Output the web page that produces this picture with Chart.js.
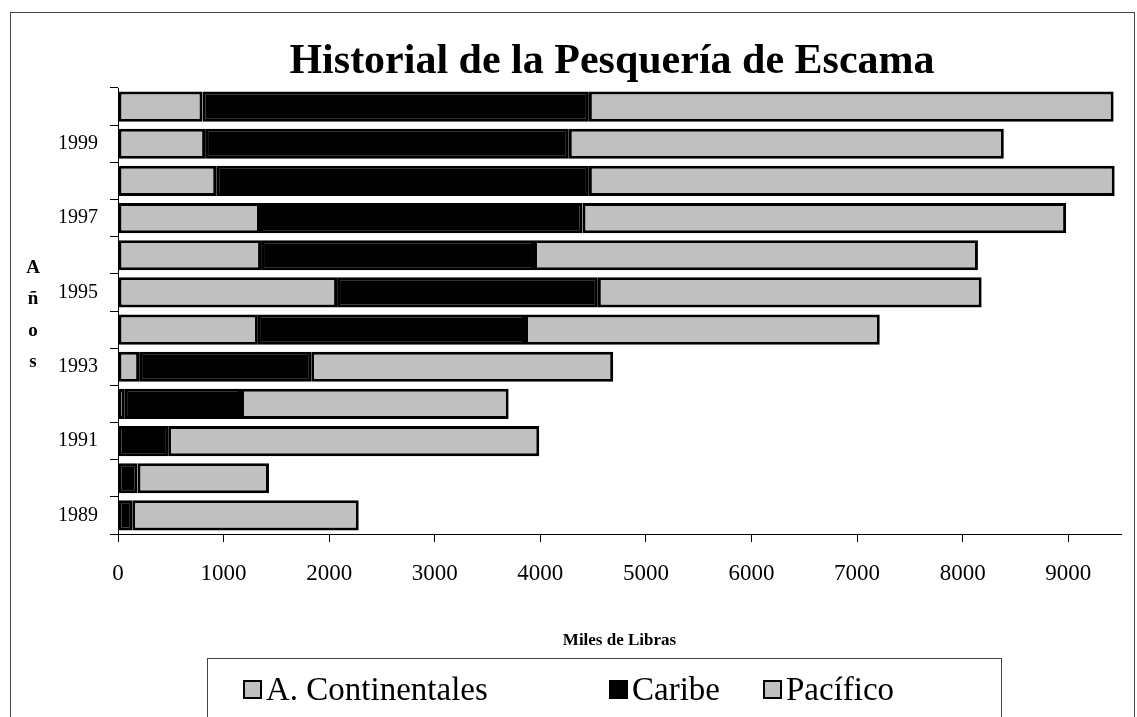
<!DOCTYPE html>
<html>
<head>
<meta charset="utf-8">
<script src="https://cdn.jsdelivr.net/npm/chart.js@4.4.1/dist/chart.umd.min.js"></script>
<style>
  html, body { margin: 0; padding: 0; background: #fff; }
  #wrap { width: 1137px; height: 717px; position: relative; overflow: hidden; }
  #legend {
    position: absolute; left: 207px; top: 658px; width: 795px; height: 100px;
    border: 1px solid #444; box-sizing: border-box;
    font-family: "Liberation Serif", "Times New Roman", serif; font-size: 33px; color: #000;
  }
  .item { position: absolute; top: 12px; display: flex; align-items: center; white-space: nowrap; }
  .swatch { width: 15px; height: 15px; border: 2px solid #000; margin-right: 4px; }
</style>
</head>
<body>
<div id="wrap">
  <canvas id="escamaChart" width="1137" height="717"></canvas>
  <div id="legend"></div>
</div>
<script>
const years = ['1989', '1990', '1991', '1992', '1993', '1994', '1995', '1996', '1997', '1998', '1999', '2000'];
const continentales = [0, 0, 0, 65, 200, 1325, 2075, 1355, 1345, 930, 825, 800];
const caribe = [135, 185, 475, 1100, 1630, 2530, 2470, 2585, 3055, 3530, 3445, 3660];
const pacifico = [2145, 1245, 3515, 2535, 2860, 3360, 3635, 4205, 4580, 4980, 4120, 4970];
const xTicks = [0, 1000, 2000, 3000, 4000, 5000, 6000, 7000, 8000, 9000];
const yTitle = ['A', 'ñ', 'o', 's'];
const chartTitle = 'Historial de la Pesquería de Escama';

const SERIF = '"Liberation Serif", "Times New Roman", serif';
const legendLeft = [35, 401, 555];

// frame, title (sits a bit right of centre in the original) and the stacked "Años"
const extras = {
  id: 'extras',
  beforeDraw(chart) {
    const ctx = chart.ctx;
    ctx.save();
    ctx.fillStyle = '#fff';
    ctx.fillRect(0, 0, chart.width, chart.height);
    ctx.strokeStyle = '#444';
    ctx.lineWidth = 1;
    ctx.strokeRect(10.5, 12.5, chart.width - 13, chart.height + 20);
    ctx.restore();
  },
  afterDraw(chart) {
    const ctx = chart.ctx;
    const area = chart.chartArea;
    ctx.save();
    ctx.fillStyle = '#000';
    ctx.textAlign = 'center';
    ctx.textBaseline = 'middle';
    ctx.font = 'bold 42px ' + SERIF;
    ctx.fillText(chartTitle, 612, 62);
    ctx.font = 'bold 19px ' + SERIF;
    const mid = (area.top + area.bottom) / 2;
    yTitle.forEach((ch, i) => {
      ctx.fillText(ch, 33, mid + 4 + (i - 1.5) * 31.5);
    });
    ctx.restore();
  }
};

const chart = new Chart(document.getElementById('escamaChart'), {
  type: 'bar',
  data: {
    labels: years,
    datasets: [
      { label: 'A. Continentales', data: continentales, backgroundColor: '#c0c0c0' },
      { label: 'Caribe', data: caribe, backgroundColor: '#000000' },
      { label: 'Pacífico', data: pacifico, backgroundColor: '#c0c0c0' }
    ]
  },
  options: {
    indexAxis: 'y',
    responsive: false,
    animation: false,
    layout: { padding: { top: 88, left: 12, right: 16, bottom: 66 } },
    datasets: {
      bar: {
        borderColor: '#000',
        borderWidth: 3,
        borderSkipped: false,
        barPercentage: 0.81,
        categoryPercentage: 1
      }
    },
    scales: {
      x: {
        stacked: true,
        min: 0,
        max: 9500,
        afterBuildTicks: (scale) => {
          scale.ticks = xTicks.map((v) => ({ value: v }));
        },
        afterFit: (scale) => { scale.height = 117; },
        border: { color: '#000', width: 1 },
        grid: { drawOnChartArea: false, tickLength: 8, tickColor: '#000' },
        ticks: {
          color: '#000',
          padding: 18,
          font: { family: SERIF, size: 23 },
          callback: (v) => String(v)
        },
        title: {
          display: true,
          text: 'Miles de Libras',
          color: '#000',
          font: { family: SERIF, size: 17, weight: 'bold' },
          padding: { top: 40, bottom: 0 }
        }
      },
      y: {
        stacked: true,
        reverse: true,
        afterFit: (scale) => { scale.width = 106; },
        border: { color: '#000', width: 1 },
        grid: { drawOnChartArea: false, tickLength: 8, tickColor: '#000', offset: true },
        ticks: {
          color: '#000',
          padding: 12,
          autoSkip: false,
          font: { family: SERIF, size: 20 },
          callback: function (value, index) {
            return index % 2 === 0 ? this.getLabelForValue(value) : '';
          }
        }
      }
    },
    plugins: {
      title: { display: false },
      legend: { display: false },
      tooltip: { enabled: false }
    }
  },
  plugins: [extras]
});

// legend built from the datasets
const legendEl = document.getElementById('legend');
chart.data.datasets.forEach((ds, i) => {
  const item = document.createElement('div');
  item.className = 'item';
  item.style.left = legendLeft[i] + 'px';
  const sw = document.createElement('span');
  sw.className = 'swatch';
  sw.style.background = ds.backgroundColor;
  const txt = document.createElement('span');
  txt.textContent = ds.label;
  item.appendChild(sw);
  item.appendChild(txt);
  legendEl.appendChild(item);
});
</script>
</body>
</html>
